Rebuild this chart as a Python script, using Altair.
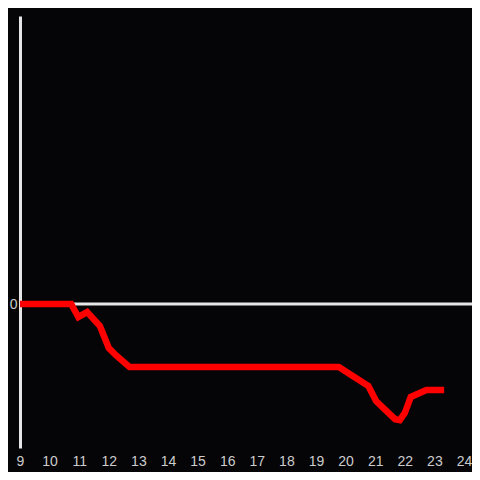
import altair as alt
import pandas as pd

xs = [9.0, 10.73, 10.97, 11.27, 11.7, 12.0, 12.23, 12.7, 19.77, 20.77, 21.03, 21.67, 21.83, 22.0, 22.2, 22.73, 23.33]
ys = [0.0, 0.0, -0.09, -0.056, -0.153, -0.306, -0.354, -0.4375, -0.4375, -0.57, -0.674, -0.8, -0.806, -0.757, -0.646, -0.597, -0.597]
x_ticks = list(range(9, 25))

df = pd.DataFrame({"x": xs, "y": ys})
xscale = alt.Scale(domain=[9, 24], nice=False, zero=False)
yscale = alt.Scale(domain=[-1, 2], nice=False, zero=False)

W = 444
zero = alt.Chart(pd.DataFrame({"y": [0]})).mark_rule(color="#e6e6e6", strokeWidth=3).encode(
    y=alt.Y("y:Q", scale=yscale, axis=alt.Axis(values=[0], format="d", title=None, domain=True,
                                                 domainColor="#e6e6e6", domainWidth=3, ticks=False, tickSize=0,
                                                 labelColor="#cccccc", labelFontSize=14, labelPadding=3,
                                                 grid=False, labelFont="Liberation Sans")),
    x=alt.value(0), x2=alt.value(W + 8),
)

line = alt.Chart(df).mark_line(color="#ff0000", strokeWidth=6.5).encode(
    x=alt.X("x:Q", scale=xscale, axis=alt.Axis(values=x_ticks, format="d", title=None, domain=False,
                                                ticks=False, tickSize=0, grid=False, labelColor="#cccccc",
                                                labelFontSize=14, labelPadding=6, labelFont="Liberation Sans",
                                                labelFlush=False)),
    y=alt.Y("y:Q", scale=yscale),
)

chart = alt.layer(zero, line).properties(
    width=W, height=432, background="#050407",
    autosize=alt.AutoSizeParams(type="none"),
    padding={"left": 12, "top": 8, "right": 464 - 12 - W, "bottom": 24},
).configure_view(strokeWidth=0)

chart.save("out.html", embed_options={"renderer": "svg", "actions": False})
